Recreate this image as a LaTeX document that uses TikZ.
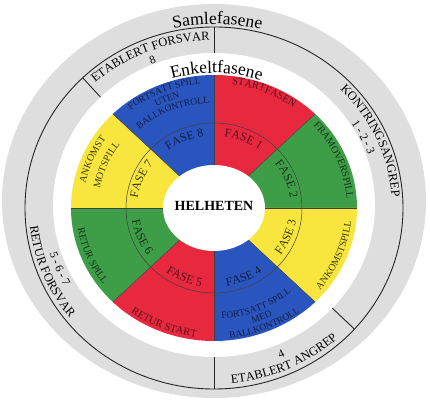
\documentclass[tikz,border=0pt]{standalone}
\usepackage{fontspec}
\setmainfont{Liberation Serif}
\usepackage{tikz}
\usetikzlibrary{decorations.text}

\definecolor{fred}{HTML}{E8283E}
\definecolor{fgreen}{HTML}{3E9E48}
\definecolor{fyellow}{HTML}{F8E63E}
\definecolor{fblue}{HTML}{2B55BE}
\definecolor{ringgray}{HTML}{DEDEDE}

% text along an elliptic arc: colour, size, x radius, y radius, from, to, text
\newcommand{\ringtext}[7]{%
  \path[decorate, decoration={text along path, text align=center, text color=#1,
      text={|\fontsize{#2}{#2}\selectfont|#7}}]
    (#5:#3pt and #4pt) arc[start angle=#5, end angle=#6, x radius=#3pt, y radius=#4pt];}

\tikzset{
  band/.style={line width=0.9pt, black!85},
  divider/.style={line width=0.5pt, black!75},
}

\begin{document}
\begin{tikzpicture}[x=1pt, y=1pt]
        \useasboundingbox (-214,-195) rectangle (216,208);

        \fill[ringgray] (0,7) ellipse[x radius=212pt, y radius=197pt];
        \draw[band] (0,0) ellipse[x radius=189pt, y radius=181pt];
        \foreach \a in {134, 90, -42, -90}
        \draw[band] (\a:150pt and 140pt) -- (\a:189pt and 181pt);
        \fill[white] (0,3) ellipse[x radius=161pt, y radius=152pt];

        \foreach \s/\c in {45/fred, 0/fgreen, -45/fyellow, -90/fblue, -135/fred, 180/fgreen, 135/fyellow, 90/fblue}
        \fill[\c] (0,0) -- (\s:143pt and 133pt) arc[start angle=\s, end angle=\s+45, x radius=143pt, y radius=133pt] -- cycle;
        \foreach \a in {0, 45, ..., 315}
        \draw[divider] (0,0) -- (\a:143pt and 133pt);
        \draw[divider] (0,0) ellipse[x radius=88pt, y radius=85pt];
        \fill[white] (0,0) ellipse[x radius=51pt, y radius=43pt];
        \node[font=\bfseries\fontsize{14}{14}\selectfont] (helheten) at (0,2) {HELHETEN};

        % titles
        \ringtext{black}{17.5}{192}{184}{119}{59}{Samlefasene}
        \ringtext{black}{17.5}{145}{135}{119}{59}{Enkeltfasene}

        % samlefasene
        \ringtext{black}{12.5}{178}{168}{152}{72}{ETABLERT FORSVAR}
        \ringtext{black}{11.5}{164}{155}{152}{72}{8}
        \ringtext{black}{12.5}{178}{168}{64}{-16}{KONTRINGSANGREP}
        \ringtext{black}{11.5}{164}{155}{66}{-14}{1 - 2 - 3}
        \ringtext{black}{12.5}{185}{176}{-106}{-26}{ETABLERT ANGREP}
        \ringtext{black}{11.5}{171}{163}{-106}{-26}{4}
        \ringtext{black}{12.5}{185}{176}{162}{242}{RETUR FORSVAR}
        \ringtext{black}{11.5}{171}{163}{162}{242}{5 - 6 - 7}

        % enkeltfasene
        \ringtext{fred!35!black}{10.5}{134}{125}{107.5}{27.5}{STARTFASEN}
        \ringtext{fgreen!30!black}{10}{133}{124}{62.5}{-17.5}{FRAMOVERSPILL}
        \ringtext{fyellow!25!black}{10}{138}{128}{-62.5}{17.5}{ANKOMSTSPILL}
        \ringtext{fblue!35!black}{9.5}{141}{131}{-107.5}{-27.5}{BALLKONTROLL}
        \ringtext{fblue!35!black}{9.5}{130}{121}{-107.5}{-27.5}{MED}
        \ringtext{fblue!35!black}{9.5}{119}{111}{-107.5}{-27.5}{FORTSATT SPILL}
        \ringtext{fred!35!black}{10.5}{139}{130}{-152.5}{-72.5}{RETUR START}
        \ringtext{fgreen!30!black}{10}{138}{128}{162.5}{242.5}{RETUR SPILL}
        \ringtext{fyellow!25!black}{10}{131}{122}{197.5}{117.5}{ANKOMST}
        \ringtext{fyellow!25!black}{10}{116}{108}{197.5}{117.5}{MOTSPILL}
        \ringtext{fblue!35!black}{9.5}{134}{125}{152.5}{72.5}{FORTSATT SPILL}
        \ringtext{fblue!35!black}{9.5}{123}{115}{152.5}{72.5}{UTEN}
        \ringtext{fblue!35!black}{9.5}{112}{105}{152.5}{72.5}{BALLKONTROLL}

        % faser
        \ringtext{fred!35!black}{12}{77}{72}{107.5}{27.5}{FASE 1}
        \ringtext{fgreen!30!black}{12}{77}{72}{62.5}{-17.5}{FASE 2}
        \ringtext{fyellow!25!black}{12}{83}{79}{-62.5}{17.5}{FASE 3}
        \ringtext{fblue!35!black}{12}{83}{79}{-107.5}{-27.5}{FASE 4}
        \ringtext{fred!35!black}{12}{83}{79}{-152.5}{-72.5}{FASE 5}
        \ringtext{fgreen!30!black}{12}{83}{79}{162.5}{242.5}{FASE 6}
        \ringtext{fyellow!25!black}{12}{77}{72}{197.5}{117.5}{FASE 7}
        \ringtext{fblue!35!black}{12}{77}{72}{152.5}{72.5}{FASE 8}
    \end{tikzpicture}
\end{document}
